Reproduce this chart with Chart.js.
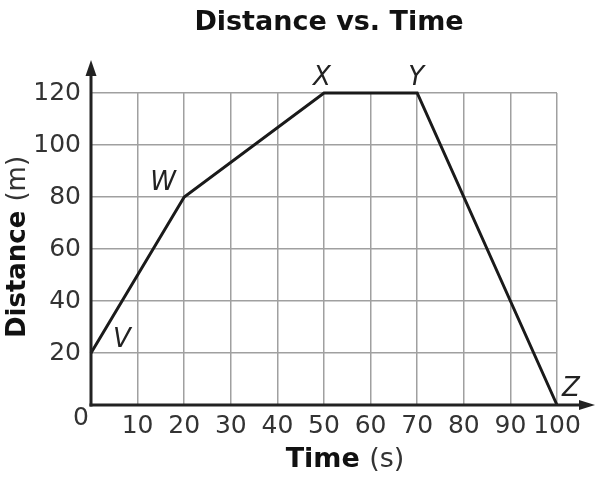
<!DOCTYPE html>
<html>
<head>
<meta charset="utf-8">
<script src="https://cdn.jsdelivr.net/npm/chart.js@4.4.0/dist/chart.umd.min.js"></script>
<style>
html,body{margin:0;padding:0;background:#fff;}
#wrap{width:602px;height:482px;}
</style>
</head>
<body>
<div id="wrap"><canvas id="c" width="602" height="482"></canvas></div>
<script>
// Data
const timeValues = [0, 20, 50, 70, 100];
const distanceValues = [20, 80, 120, 120, 0];
const pointNames = ['V', 'W', 'X', 'Y', 'Z'];
const xTickValues = [0, 10, 20, 30, 40, 50, 60, 70, 80, 90, 100];
const yTickValues = [0, 20, 40, 60, 80, 100, 120];

const FONT = '"DejaVu Sans", Verdana, sans-serif';
const labelOffsets = [[31, -13], [-21, -14], [-2, -15], [-1, -15], [14, -16]];

const overlay = {
  id: 'overlay',
  afterDraw(chart) {
    const ctx = chart.ctx;
    const xs = chart.scales.x, ys = chart.scales.y;
    const x0 = xs.getPixelForValue(0), y0 = ys.getPixelForValue(0);
    const area = chart.chartArea;
    ctx.save();
    // axes with arrows
    ctx.strokeStyle = '#222'; ctx.fillStyle = '#222'; ctx.lineWidth = 3;
    ctx.beginPath(); ctx.moveTo(x0, y0 + 1.5); ctx.lineTo(x0, area.top - 20); ctx.stroke();
    ctx.beginPath(); ctx.moveTo(x0, area.top - 33); ctx.lineTo(x0 - 5.5, area.top - 17); ctx.lineTo(x0 + 5.5, area.top - 17); ctx.closePath(); ctx.fill();
    ctx.beginPath(); ctx.moveTo(x0 - 1.5, y0); ctx.lineTo(area.right + 26, y0); ctx.stroke();
    ctx.beginPath(); ctx.moveTo(area.right + 38, y0); ctx.lineTo(area.right + 22, y0 - 5); ctx.lineTo(area.right + 22, y0 + 5); ctx.closePath(); ctx.fill();

    // origin "0"
    ctx.fillStyle = '#333';
    ctx.font = '25px ' + FONT;
    ctx.textAlign = 'center'; ctx.textBaseline = 'middle';
    ctx.fillText('0', x0 - 10, y0 + 13);

    // point labels
    ctx.fillStyle = '#222';
    ctx.font = 'italic 26px ' + FONT;
    pointNames.forEach((n, i) => {
      const px = xs.getPixelForValue(timeValues[i]);
      const py = ys.getPixelForValue(distanceValues[i]);
      ctx.fillText(n, px + labelOffsets[i][0], py + labelOffsets[i][1]);
    });

    // title
    ctx.fillStyle = '#111';
    ctx.font = 'bold 27px ' + FONT;
    ctx.textBaseline = 'alphabetic';
    ctx.fillText('Distance vs. Time', (area.left + area.right) / 2 + 5, 30);

    // mixed-weight axis titles
    const drawMixed = (boldTxt, normTxt, size) => {
      ctx.font = 'bold ' + size + 'px ' + FONT;
      const w1 = ctx.measureText(boldTxt).width;
      ctx.font = size + 'px ' + FONT;
      const w2 = ctx.measureText(normTxt).width;
      const start = -(w1 + w2) / 2;
      ctx.textAlign = 'left';
      ctx.font = 'bold ' + size + 'px ' + FONT;
      ctx.fillStyle = '#111';
      ctx.fillText(boldTxt, start, 0);
      ctx.font = size + 'px ' + FONT;
      ctx.fillStyle = '#333';
      ctx.fillText(normTxt, start + w1, 0);
    };
    ctx.save();
    ctx.translate(345, 467);
    drawMixed('Time ', '(s)', 27);
    ctx.restore();
    ctx.save();
    ctx.translate(25, 247);
    ctx.rotate(-Math.PI / 2);
    drawMixed('Distance ', '(m)', 26);
    ctx.restore();
    ctx.restore();
  }
};

new Chart(document.getElementById('c'), {
  type: 'scatter',
  data: {
    datasets: [{
      data: timeValues.map((t, i) => ({ x: t, y: distanceValues[i] })),
      showLine: true,
      borderColor: '#1a1a1a',
      borderWidth: 3,
      pointRadius: 0,
      pointHoverRadius: 0,
      clip: false,
      tension: 0
    }]
  },
  options: {
    responsive: false,
    animation: false,
    devicePixelRatio: 1,
    layout: { padding: { top: 93, right: 45, left: 0, bottom: 0 } },
    plugins: { legend: { display: false }, title: { display: false }, tooltip: { enabled: false } },
    scales: {
      x: {
        type: 'linear', min: 0, max: 100,
        afterBuildTicks: s => { s.ticks = xTickValues.map(v => ({ value: v })); },
        afterFit: s => { s.height = 77; },
        ticks: { font: { family: FONT, size: 25 }, color: '#333', padding: 6, maxRotation: 0, autoSkip: false,
          callback: v => v === 0 ? '' : String(v) },
        grid: { color: '#a0a0a0', lineWidth: 1.5, drawTicks: false },
        border: { display: false }
      },
      y: {
        type: 'linear', min: 0, max: 120,
        afterBuildTicks: s => { s.ticks = yTickValues.map(v => ({ value: v })); },
        afterFit: s => { s.width = 91; },
        ticks: { font: { family: FONT, size: 25 }, color: '#333', padding: 10, autoSkip: false,
          callback: v => v === 0 ? '' : String(v) },
        grid: { color: '#a0a0a0', lineWidth: 1.5, drawTicks: false },
        border: { display: false }
      }
    }
  },
  plugins: [overlay]
});
</script>
</body>
</html>
